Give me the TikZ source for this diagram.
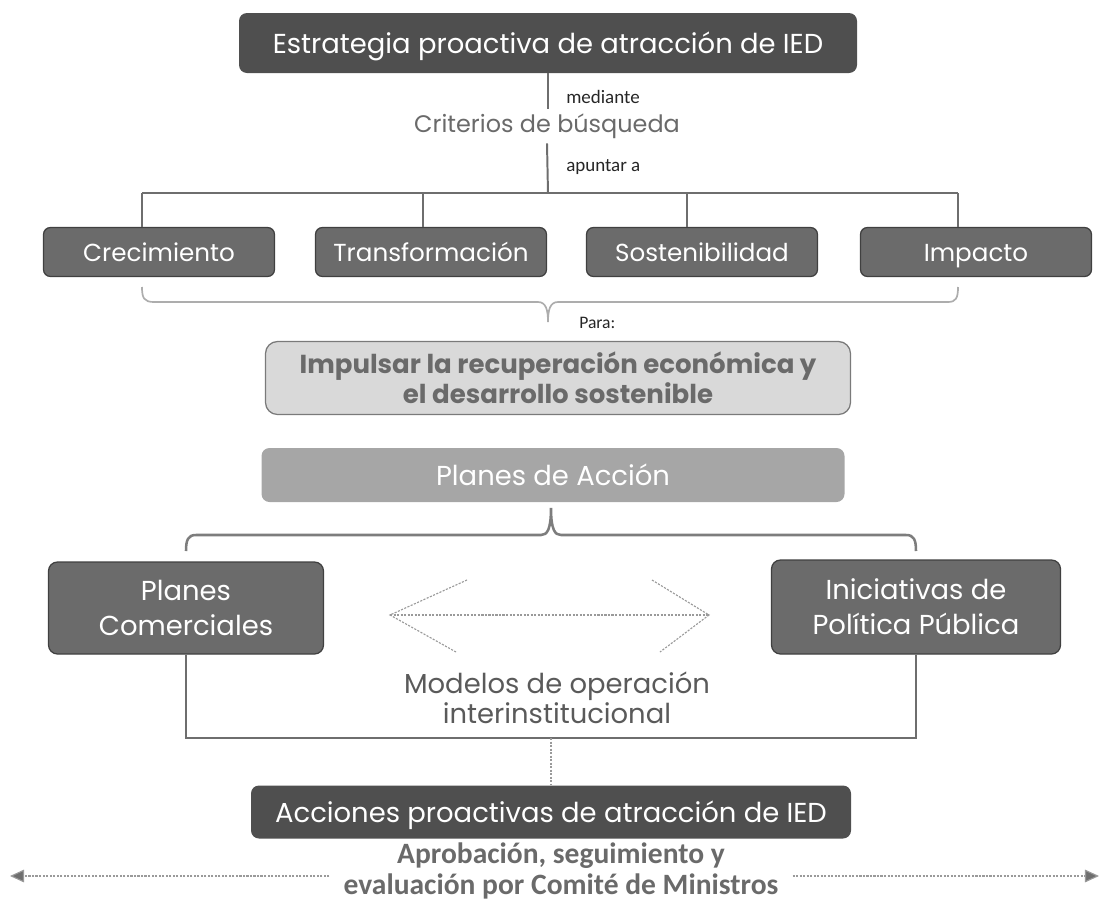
\documentclass[tikz,border=0pt]{standalone}
\usepackage{fontspec}
\setmainfont{Poppins}
\newfontfamily\labelfont{Carlito}
\usetikzlibrary{positioning,arrows.meta}

\newlength{\pxu}
\setlength{\pxu}{0.025cm}

\definecolor{boxdark}{HTML}{4F4F4F}
\definecolor{boxmid}{HTML}{6B6B6B}
\definecolor{boxedge}{HTML}{404040}
\definecolor{boxlight}{HTML}{D9D9D9}
\definecolor{boxlightedge}{HTML}{7A7A7A}
\definecolor{boxpale}{HTML}{A6A6A6}
\definecolor{txtgray}{HTML}{6A6A6A}
\definecolor{linegray}{HTML}{6E6E6E}
\definecolor{bracegray}{HTML}{ADADAD}
\definecolor{dotgray}{HTML}{9A9A9A}

\tikzset{
  boxtext/.style={font=\fontsize{19.5}{25}\selectfont},
  titlebox/.style={boxtext, fill=boxdark, text=white, rounded corners=8\pxu, inner sep=0pt,
    text height=14.5pt, text depth=0pt},
  critbox/.style={font=\fontsize{17.5}{22}\selectfont, fill=boxmid, draw=boxedge, line width=0.9pt, text=white,
    rounded corners=7\pxu, minimum width=231\pxu, minimum height=49\pxu, inner sep=0pt,
    text height=13pt, text depth=0pt},
  sidebox/.style={boxtext, fill=boxmid, draw=boxedge, line width=0.9pt, text=white, rounded corners=9\pxu,
    inner sep=0pt, align=center},
  goalbox/.style={fill=boxlight, draw=boxlightedge, line width=0.9pt, text=txtgray, rounded corners=12\pxu,
    align=center, inner sep=0pt, font=\fontsize{18.5}{21}\selectfont\bfseries},
  smalllabel/.style={font=\labelfont\fontsize{13.5}{15}\selectfont, text=black!85, inner sep=0pt},
  greytext/.style={boxtext, text=txtgray, inner sep=0pt, align=center},
  treeline/.style={draw=linegray, line width=1.4pt},
  bracetop/.style={draw=bracegray, line width=1.2pt},
  bracebot/.style={draw=linegray!90, line width=1.8pt},
  dotline/.style={draw=dotgray, line width=0.8pt, dash pattern=on 1.5pt off 1pt},
  dotarrow/.style={dotline, -{Triangle[length=10pt, width=9pt, fill=linegray]}}
}

\begin{document}
\begin{tikzpicture}[x=\pxu, y=-\pxu]
  \useasboundingbox (0,0) rectangle (1101,902);

  % top of the chain
  \node[titlebox, minimum width=618\pxu, minimum height=60\pxu] (estrategia) at (548,43) {Estrategia proactiva de atracción de IED};
  \node[greytext, font=\fontsize{17}{22}\selectfont, minimum height=34\pxu] (criterios) at (547,126) {Criterios de búsqueda};
  \node[smalllabel, anchor=west] (mediante) at (566,97) {mediante};
  \node[smalllabel, anchor=west] (apuntar) at (566,167) {apuntar a};

  \coordinate (bus) at (548,193);
  \coordinate (b1) at (142,193);
  \coordinate (b2) at (423,193);
  \coordinate (b3) at (687,193);
  \coordinate (b4) at (958,193);

  \draw[treeline] (estrategia.south) -- (estrategia.south |- criterios.north);
  \draw[treeline] (criterios.south) -- (bus);

  % criterios
  \node[critbox] (crec) at (159,252) {Crecimiento};
  \node[critbox] (transf) at (431,252) {Transformación};
  \node[critbox] (sost) at (702,252) {Sostenibilidad};
  \node[critbox] (impac) at (976,252) {Impacto};

  \draw[treeline] (b1) -- (b4);
  \foreach \b/\n in {b1/crec, b2/transf, b3/sost, b4/impac}
    \draw[treeline] (\b) -- (\b |- \n.north);

  % brace under the criteria
  \draw[bracetop] (142,287) .. controls (142,298) and (144,302) .. (154,302) -- (538,302)
    .. controls (546,302) and (548,310) .. (548,322)
    .. controls (548,310) and (550,302) .. (558,302) -- (948,302)
    .. controls (956,302) and (958,298) .. (958,287);
  \node[smalllabel, font=\labelfont\fontsize{12.5}{15}\selectfont, anchor=west] (para) at (579,323) {Para:};

  \node[goalbox, minimum width=585\pxu, minimum height=73\pxu] (impulsar) at (558,378)
    {Impulsar la recuperación económica y\\el desarrollo sostenible};

  \node[titlebox, fill=boxpale, minimum width=583\pxu, minimum height=54\pxu] (planes) at (553,475) {Planes de Acción};

  % brace under the action plans
  \draw[bracebot] (186,551) .. controls (186,540) and (188,535) .. (196,535) -- (541,535)
    .. controls (547,535) and (551,530) .. (551,508)
    .. controls (551,530) and (555,535) .. (561,535) -- (906,535)
    .. controls (914,535) and (916,540) .. (916,551);

  \node[sidebox, minimum width=275\pxu, minimum height=92\pxu] (plancom) at (186,608) {Planes\\Comerciales};
  \node[sidebox, minimum width=289\pxu, minimum height=94\pxu] (inic) at (916,607) {Iniciativas de\\Política Pública};

  % double arrow between the two kinds of plans
  \coordinate (ltip) at (390,615);
  \coordinate (rtip) at (709,615);
  \draw[dotline] (ltip) -- (rtip);
  \draw[dotline] (467,580) -- (ltip) -- (456,652);
  \draw[dotline] (652,580) -- (rtip) -- (660,652);

  \node[greytext, font=\fontsize{19.5}{21.5}\selectfont, text=txtgray!85!black] (modelos) at (557,698) {Modelos de operación\\interinstitucional};

  \coordinate (loopjoin) at (551,738);
  \draw[treeline, line width=1.6pt] (plancom.south) |- (loopjoin) -| (inic.south);

  \node[titlebox, minimum width=600\pxu, minimum height=53\pxu] (acciones) at (551,812) {Acciones proactivas de atracción de IED};
  \draw[dotline] (loopjoin) -- (acciones.north);

  \node[font=\labelfont\fontsize{21}{21.5}\selectfont\bfseries, text=txtgray, align=center, inner xsep=14\pxu, inner ysep=0pt] (aprob) at (561,871)
    {Aprobación, seguimiento y\\evaluación por Comité de Ministros};

  \coordinate (lend) at (10,876);
  \coordinate (rend) at (1099,876);
  \draw[dotarrow] (aprob.west |- lend) -- (lend);
  \draw[dotarrow] (aprob.east |- rend) -- (rend);
\end{tikzpicture}
\end{document}
